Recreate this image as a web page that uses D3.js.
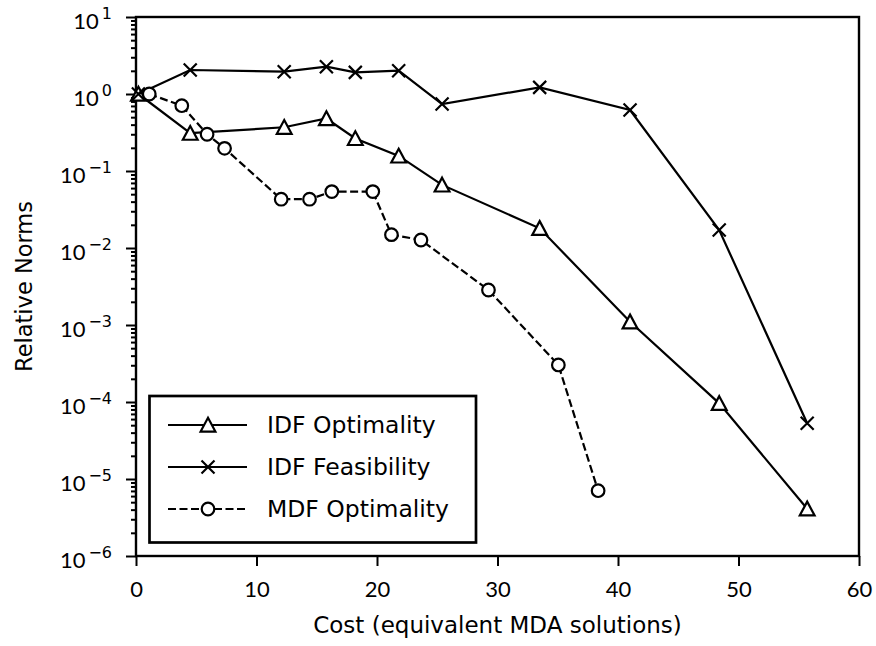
<!DOCTYPE html>
<html>
<head>
<meta charset="utf-8">
<script src="https://cdn.jsdelivr.net/npm/d3@7/dist/d3.min.js"></script>
<style>
  html, body { margin: 0; padding: 0; background: #fff; }
  svg { display: block; }
  text { font-family: "DejaVu Sans", sans-serif; fill: #000; }
  .num { font-family: Lato, "DejaVu Sans", sans-serif; }
</style>
</head>
<body>
<svg id="chart" width="876" height="646"></svg>
<script>
// Cost (equivalent MDA solutions) per iteration
const idfCost = [0.2, 4.5, 12.3, 15.8, 18.2, 21.8, 25.4, 33.5, 41.0, 48.4, 55.7];
const idfOptimality = [1.0, 0.31, 0.37, 0.48, 0.265, 0.157, 0.066, 0.018, 0.0011, 9.6e-5, 4.1e-6];
const idfFeasibility = [1.0, 2.05, 1.95, 2.26, 1.91, 2.01, 0.74, 1.22, 0.62, 0.0171, 5.3e-5];

const mdfCost = [1.1, 3.8, 5.9, 7.35, 12.05, 14.4, 16.25, 19.65, 21.2, 23.65, 29.25, 35.05, 38.35];
const mdfOptimality = [1.0, 0.705, 0.30, 0.197, 0.043, 0.043, 0.054, 0.054, 0.0149, 0.0127, 0.00285, 3.03e-4, 7.05e-6];

const xTicks = [0, 10, 20, 30, 40, 50, 60];
const yExponents = [-6, -5, -4, -3, -2, -1, 0, 1];

const seriesNames = ["IDF Optimality", "IDF Feasibility", "MDF Optimality"];

const svg = d3.select("#chart");
const plotLeft = 136, plotRight = 859, plotTop = 17, plotBottom = 556;

const x = d3.scaleLinear().domain([0, 60]).range([plotLeft, plotRight]);
const y = d3.scaleLog().domain([1e-6, 1e1]).range([plotBottom, plotTop]);

const lineW = 2.2;
const dash = "8,3.5";

// ---- axes ----
const majorY = yExponents.map(e => Math.pow(10, e));
const minorY = [];
for (let e = -6; e < 1; e++) for (let m = 2; m <= 9; m++) minorY.push(m * Math.pow(10, e));

const yMinor = svg.append("g").attr("transform", `translate(${plotLeft},0)`)
  .call(d3.axisLeft(y).tickValues(minorY).tickSize(5).tickSizeOuter(0).tickFormat(() => ""));
const yMajor = svg.append("g").attr("transform", `translate(${plotLeft},0)`)
  .call(d3.axisLeft(y).tickValues(majorY).tickSize(10).tickSizeOuter(0).tickFormat(() => ""));
[yMinor, yMajor].forEach(g => {
  g.select(".domain").remove();
  g.selectAll(".tick line").attr("stroke", "#000").attr("stroke-width", 2);
});
yMajor.selectAll(".tick text").remove();
yMajor.selectAll(".tick").each(function (d) {
  const t = d3.select(this).append("text")
    .attr("x", -24).attr("y", 11)
    .attr("text-anchor", "end");
  t.append("tspan").attr("class", "num").style("font-size", "22px").text("10");
  t.append("tspan").attr("dx", 3).attr("dy", -10).style("font-size", "16px")
    .text(String(Math.round(Math.log10(d))).replace("-", "\u2212"));
});

const xAxis = svg.append("g").attr("transform", `translate(0,${plotBottom})`)
  .call(d3.axisBottom(x).tickValues(xTicks).tickSize(10).tickSizeOuter(0).tickFormat(d3.format("d")));
xAxis.select(".domain").remove();
xAxis.selectAll(".tick line").attr("stroke", "#000").attr("stroke-width", 2);
xAxis.selectAll(".tick text").attr("y", 41).attr("dy", null)
  .attr("class", "num").attr("fill", "#000")
  .style("font-size", "22px");

// frame
svg.append("rect")
  .attr("x", plotLeft).attr("y", plotTop)
  .attr("width", plotRight - plotLeft).attr("height", plotBottom - plotTop)
  .attr("fill", "none").attr("stroke", "#000").attr("stroke-width", 2.4);

// axis titles
svg.append("text")
  .attr("x", (plotLeft + plotRight) / 2).attr("y", 633)
  .attr("text-anchor", "middle").style("font-size", "23px")
  .text("Cost (equivalent MDA solutions)");
svg.append("text")
  .attr("transform", `translate(32,${(plotTop + plotBottom) / 2}) rotate(-90)`)
  .attr("text-anchor", "middle").style("font-size", "22.5px")
  .text("Relative Norms");

// ---- series ----
const line = d3.line().x(d => x(d[0])).y(d => y(d[1]));
const idfOptPts = idfCost.map((c, i) => [c, idfOptimality[i]]);
const idfFeasPts = idfCost.map((c, i) => [c, idfFeasibility[i]]);
const mdfOptPts = mdfCost.map((c, i) => [c, mdfOptimality[i]]);

const plot = svg.append("g");

function drawLine(pts, dashed) {
  plot.append("path").datum(pts)
    .attr("d", line).attr("fill", "none")
    .attr("stroke", "#000").attr("stroke-width", lineW)
    .attr("stroke-dasharray", dashed ? dash : null);
}

const triPath = "M0,-7.2L7.4,6.6L-7.4,6.6Z";
const crossPath = "M-6.5,-6.5L6.5,6.5M-6.5,6.5L6.5,-6.5";

function drawMarker(g, cx, cy, kind) {
  if (kind === "tri") {
    g.append("path").attr("d", triPath)
      .attr("transform", `translate(${cx},${cy})`)
      .attr("fill", "#fff").attr("stroke", "#000").attr("stroke-width", 2.2)
      .attr("stroke-linejoin", "miter");
  } else if (kind === "cross") {
    g.append("path").attr("d", crossPath)
      .attr("transform", `translate(${cx},${cy})`)
      .attr("fill", "none").attr("stroke", "#000").attr("stroke-width", 2.2);
  } else {
    g.append("circle").attr("cx", cx).attr("cy", cy).attr("r", 6.3)
      .attr("fill", "#fff").attr("stroke", "#000").attr("stroke-width", 2.2);
  }
}

function drawMarkers(pts, kind) {
  const g = plot.append("g");
  pts.forEach(p => drawMarker(g, x(p[0]), y(p[1]), kind));
}

drawLine(idfOptPts, false);
drawMarkers(idfOptPts, "tri");
drawLine(idfFeasPts, false);
drawMarkers(idfFeasPts, "cross");
drawLine(mdfOptPts, true);
drawMarkers(mdfOptPts, "circ");

// ---- legend ----
const legend = svg.append("g");
legend.append("rect")
  .attr("x", 149.5).attr("y", 396).attr("width", 326.5).attr("height", 146.5)
  .attr("fill", "#fff").attr("stroke", "#000").attr("stroke-width", 2.7);
const kinds = ["tri", "cross", "circ"];
const rowY = [425, 467, 509];
seriesNames.forEach((name, i) => {
  legend.append("line")
    .attr("x1", 168).attr("x2", 247).attr("y1", rowY[i]).attr("y2", rowY[i])
    .attr("stroke", "#000").attr("stroke-width", lineW)
    .attr("stroke-dasharray", kinds[i] === "circ" ? dash : null);
  drawMarker(legend, 208, rowY[i], kinds[i]);
  legend.append("text")
    .attr("x", 267).attr("y", rowY[i] + 8)
    .style("font-size", "23.5px")
    .text(name);
});
</script>
</body>
</html>
